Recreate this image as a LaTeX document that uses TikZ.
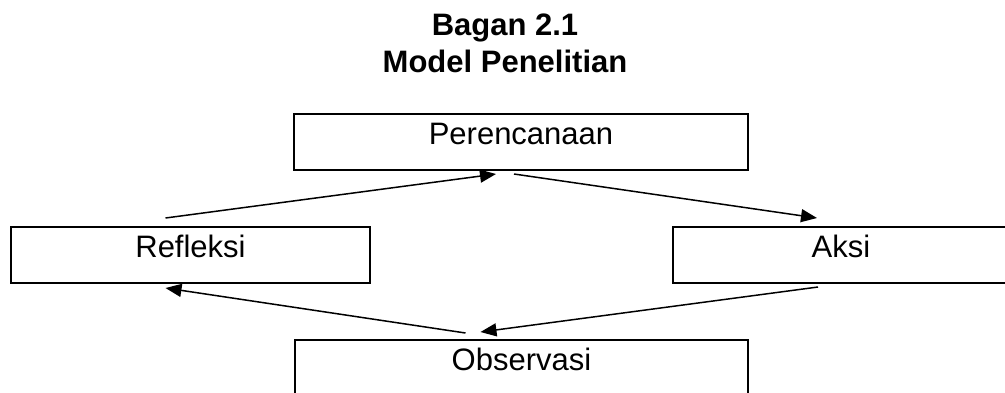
\documentclass[tikz,border=0pt]{standalone}
\usepackage{fontspec}
\setmainfont{Liberation Sans}
\usetikzlibrary{arrows.meta}
\begin{document}
\begin{tikzpicture}[x=1pt,y=-1pt,
  box/.style={draw,line width=2pt,rectangle,inner sep=0pt,text height=30pt,text depth=26pt,font=\fontsize{31}{37}\selectfont},
  title/.style={anchor=base,font=\fontsize{31}{37}\selectfont\bfseries},
  conn/.style={line width=1.5pt,-{Triangle[length=16pt,width=13pt]}}]
\useasboundingbox (0,0) rectangle (1005,392);
\clip (0,0) rectangle (1005,392);
\fill[white] (0,0) rectangle (1005,392);
\node[title] (t1) at (505,35) {Bagan 2.1};
\node[title] (t2) at (505,72) {Model Penelitian};
\node[box,minimum width=454pt] (P) at (521,142) {Perencanaan};
\node[box,minimum width=359pt] (R) at (190.5,255) {Refleksi};
\node[box,minimum width=336pt] (A) at (841,255) {Aksi};
\node[box,minimum width=453pt] (O) at (521.5,368) {Observasi};
\draw[conn] ([xshift=-25pt,yshift=8pt]R.north) -- ([xshift=-25pt,yshift=-3pt]P.south);
\draw[conn] ([xshift=-7pt,yshift=-3pt]P.south) -- ([xshift=-24pt,yshift=8pt]A.north);
\draw[conn] ([xshift=-23pt,yshift=-3pt]A.south) -- ([xshift=-41pt,yshift=7pt]O.north);
\draw[conn] ([xshift=-56pt,yshift=6pt]O.north) -- ([xshift=-25pt,yshift=-4pt]R.south);
\end{tikzpicture}
\end{document}
